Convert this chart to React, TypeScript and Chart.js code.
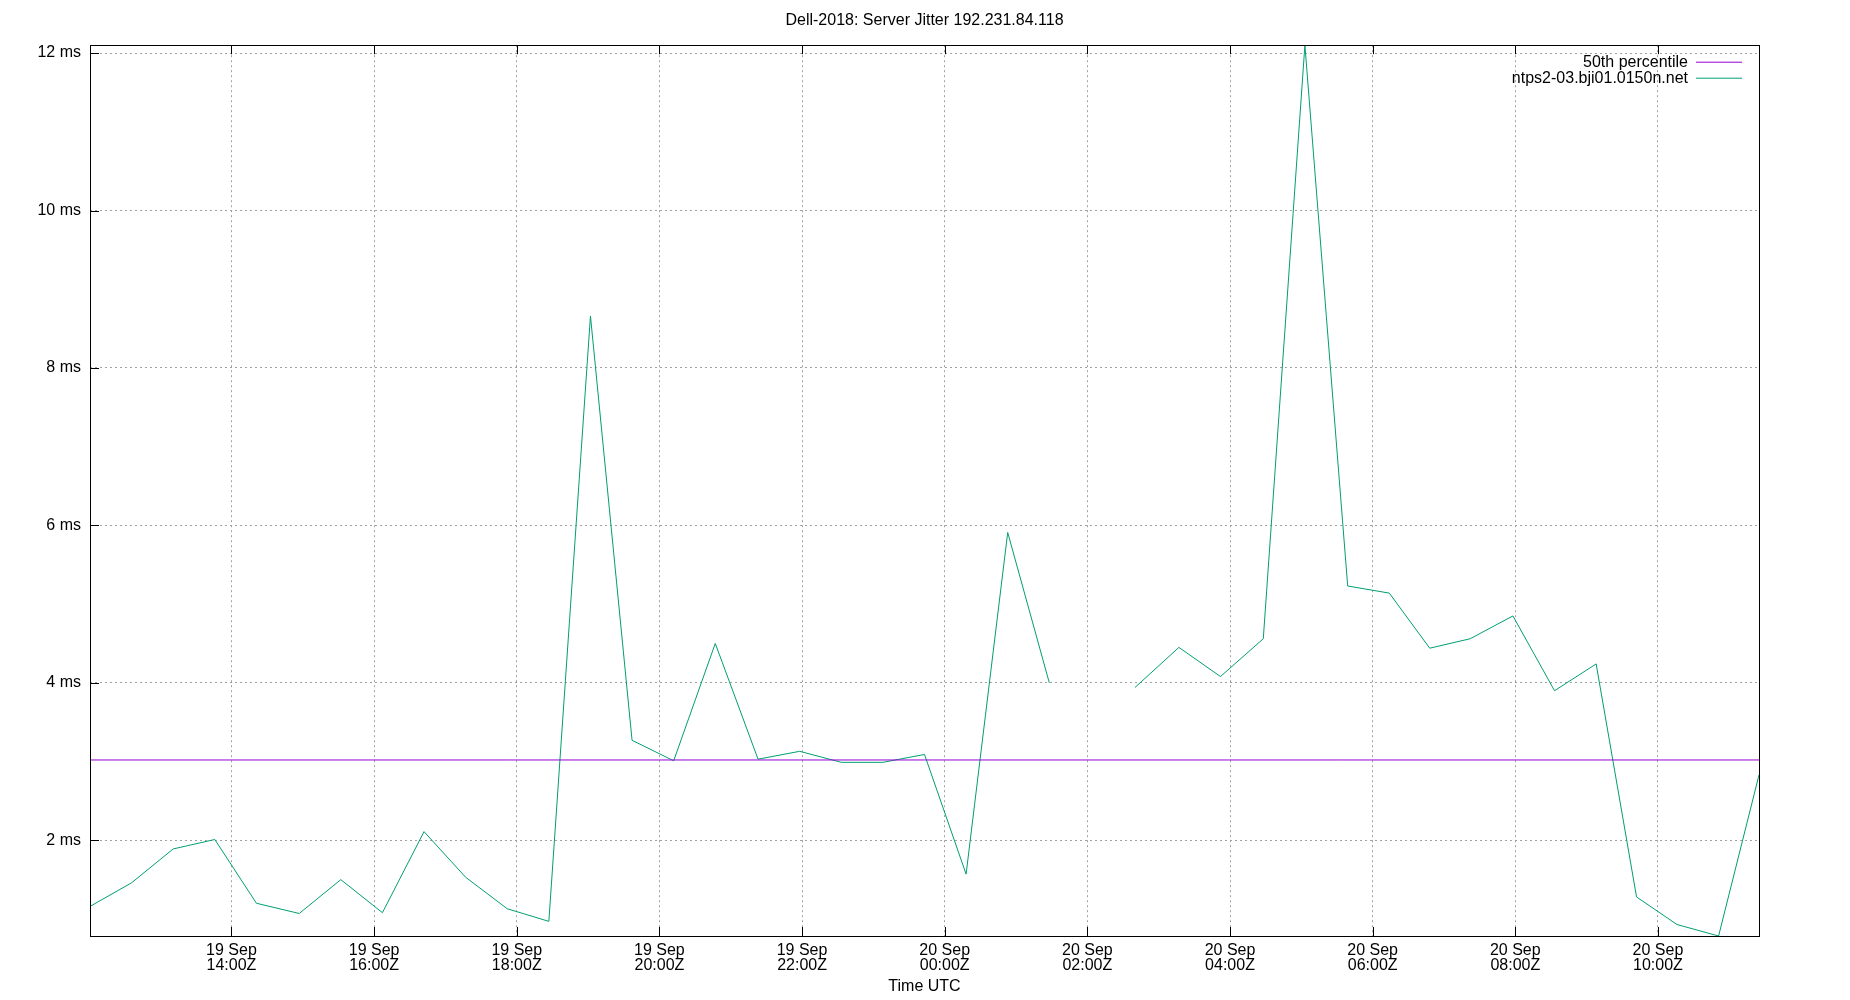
import { useEffect, useRef } from 'react';
import Chart from 'chart.js/auto';

const chartTitle = 'Dell-2018: Server Jitter 192.231.84.118';
const axisTitle = 'Time UTC';
const medianLabel = '50th percentile';
const seriesLabel = 'ntps2-03.bji01.0150n.net';

// 50th percentile of the jitter, ms
const medianJitter = 3.02;

// sample times, "day hh:mm" of September, UTC
const sampleTimes = [
  '19 12:01', '19 12:36', '19 13:11', '19 13:46', '19 14:21', '19 14:57', '19 15:32',
  '19 16:07', '19 16:42', '19 17:17', '19 17:52', '19 18:27', '19 19:02', '19 19:37',
  '19 20:12', '19 20:47', '19 21:23', '19 21:58', '19 22:33', '19 23:08', '19 23:43',
  '20 00:18', '20 00:53', '20 01:28', '20 02:03', '20 02:40', '20 03:17', '20 03:52',
  '20 04:28', '20 05:03', '20 05:39', '20 06:14', '20 06:48', '20 07:22', '20 07:58',
  '20 08:33', '20 09:08', '20 09:42', '20 10:16', '20 10:51', '20 11:25',
];

// server jitter in ms (null = no sample)
const jitterMs = [
  1.16, 1.46, 1.89, 2.01, 1.2, 1.07, 1.5,
  1.08, 2.11, 1.53, 1.13, 0.97, 8.66, 3.27,
  3.01, 4.5, 3.03, 3.13, 2.99, 2.99, 3.09,
  1.57, 5.91, 4.0, null, 3.94, 4.45, 4.08,
  4.56, 12.1, 5.23, 5.14, 4.44, 4.56, 4.85,
  3.9, 4.24, 1.28, 0.93, 0.784, 2.83,
];

const xTickTimes = [
  '19 14:00', '19 16:00', '19 18:00', '19 20:00', '19 22:00', '20 00:00',
  '20 02:00', '20 04:00', '20 06:00', '20 08:00', '20 10:00',
];
const yTickValues = [2, 4, 6, 8, 10, 12];

const FONT = 'Liberation Sans, Arial, sans-serif';

// hours since 19 Sep 00:00Z
const toHours = (s: string) => {
  const [d, hm] = s.split(' ');
  const [h, m] = hm.split(':').map(Number);
  return (Number(d) - 19) * 24 + h + m / 60;
};

// gnuplot style box round the plot, with ticks pointing inwards
const framePlugin = {
  id: 'frame',
  afterDatasetsDraw(chart: any) {
    const { ctx, chartArea: a, scales } = chart;
    const len = 9;
    ctx.save();
    ctx.strokeStyle = '#000';
    ctx.lineWidth = 1;
    ctx.beginPath();
    scales.x.ticks.forEach((t: any) => {
      const px = Math.round(scales.x.getPixelForValue(t.value)) + 0.5;
      ctx.moveTo(px, a.bottom);
      ctx.lineTo(px, a.bottom - len);
      ctx.moveTo(px, a.top);
      ctx.lineTo(px, a.top + len);
    });
    scales.y.ticks.forEach((t: any) => {
      const py = Math.round(scales.y.getPixelForValue(t.value)) + 0.5;
      ctx.moveTo(a.left, py);
      ctx.lineTo(a.left + len, py);
    });
    ctx.stroke();
    ctx.strokeRect(
      Math.round(a.left) + 0.5,
      Math.round(a.top) + 0.5,
      Math.round(a.right - a.left),
      Math.round(a.bottom - a.top),
    );
    ctx.restore();
  },
};

// put the key in the top right corner, inside the plot
const keyPlugin = {
  id: 'keyCorner',
  afterLayout(chart: any) {
    const lg = chart.legend;
    const a = chart.chartArea;
    if (!lg) return;
    const w = lg.width;
    const h = lg.height;
    lg.right = a.right - 17;
    lg.left = lg.right - w;
    lg.top = a.top + 9;
    lg.bottom = lg.top + h;
  },
};

export default function App() {
  const canvasRef = useRef<HTMLCanvasElement | null>(null);
  const chartRef = useRef<Chart | null>(null);

  useEffect(() => {
    if (!canvasRef.current) return;
    if (chartRef.current) {
      chartRef.current.destroy();
      chartRef.current = null;
    }

    const hours = sampleTimes.map(toHours);
    const xMin = hours[0];
    const xMax = hours[hours.length - 1];
    const present = jitterMs.filter((v) => v !== null) as number[];
    const yMin = Math.min(...present);
    const yMax = Math.max(...present);
    const xTicks = xTickTimes.map(toHours);

    chartRef.current = new Chart(canvasRef.current, {
      type: 'line',
      data: {
        datasets: [
          {
            label: medianLabel,
            data: [
              { x: xMin, y: medianJitter },
              { x: xMax, y: medianJitter },
            ],
            borderColor: '#9400d3',
            backgroundColor: '#9400d3',
            borderWidth: 1,
            pointRadius: 0,
          },
          {
            label: seriesLabel,
            data: hours.map((x, i) => ({ x, y: jitterMs[i] })),
            borderColor: '#009e73',
            backgroundColor: '#009e73',
            borderWidth: 1,
            pointRadius: 0,
            spanGaps: false,
          },
        ],
      },
      options: {
        responsive: false,
        animation: false,
        devicePixelRatio: 1,
        layout: { padding: { top: 0, right: 91, bottom: 0, left: 0 } },
        plugins: {
          title: {
            display: true,
            text: chartTitle,
            color: '#000',
            fullSize: false,
            font: { family: FONT, size: 16, weight: 'normal' },
            padding: { top: 11, bottom: 15 },
          },
          legend: {
            position: 'chartArea',
            align: 'start',
            rtl: true,
            labels: {
              color: '#000',
              font: { family: FONT, size: 16 },
              usePointStyle: true,
              pointStyle: 'line',
              pointStyleWidth: 46,
              padding: 0,
            },
          },
          tooltip: { enabled: false },
        },
        scales: {
          x: {
            type: 'linear',
            min: xMin,
            max: xMax,
            afterBuildTicks: (scale: any) => {
              scale.ticks = xTicks.map((v) => ({ value: v }));
            },
            afterFit: (scale: any) => {
              scale.height = 64;
            },
            ticks: {
              autoSkip: false,
              maxRotation: 0,
              padding: 7,
              color: '#000',
              font: { family: FONT, size: 16, lineHeight: 0.95 },
              callback: (_v: any, i: number) => {
                const [d, hm] = xTickTimes[i].split(' ');
                return [`${d} Sep`, `${hm}Z`];
              },
            },
            grid: { color: '#a0a0a0', lineWidth: 1, drawTicks: false },
            border: { display: false, dash: [2, 3] },
            title: {
              display: true,
              text: axisTitle,
              color: '#000',
              font: { family: FONT, size: 16 },
              padding: { top: 4, bottom: 4 },
            },
          },
          y: {
            type: 'linear',
            min: yMin,
            max: yMax,
            afterBuildTicks: (scale: any) => {
              scale.ticks = yTickValues.map((v) => ({ value: v }));
            },
            afterFit: (scale: any) => {
              scale.width = 90;
            },
            ticks: {
              padding: 9,
              color: '#000',
              font: { family: FONT, size: 16 },
              callback: (v: any) => `${v} ms`,
            },
            grid: { color: '#a0a0a0', lineWidth: 1, drawTicks: false },
            border: { display: false, dash: [2, 3] },
          },
        },
      },
      plugins: [framePlugin, keyPlugin],
    } as any);

    return () => {
      if (chartRef.current) {
        chartRef.current.destroy();
        chartRef.current = null;
      }
    };
  }, []);

  return (
    <div style={{ position: 'fixed', left: 0, top: 0, width: 1850, height: 1000, background: '#fff' }}>
      <canvas ref={canvasRef} width={1850} height={1000} style={{ display: 'block' }} />
    </div>
  );
}
